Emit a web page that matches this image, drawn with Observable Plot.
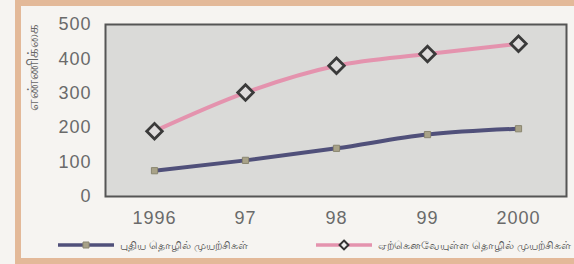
<!DOCTYPE html>
<html>
<head>
<meta charset="utf-8">
<script src="https://cdn.jsdelivr.net/npm/d3@7"></script>
<script src="https://cdn.jsdelivr.net/npm/@observablehq/plot@0.6"></script>
<style>
  html, body { margin: 0; padding: 0; background: #f6f4f1; }
  #wrap { position: relative; width: 574px; height: 264px; overflow: hidden; background: #f6f4f1; font-family: "Liberation Sans", Arial, sans-serif; }
  .band { position: absolute; background: #e3b999; }
  #chart { position: absolute; left: 0; top: 0; }
  .leg { position: absolute; top: 237px; height: 16px; display: flex; align-items: center; font-size: 11px; color: #555; font-family: "Noto Sans", "Liberation Sans", sans-serif; white-space: nowrap; }
  .leg svg { margin-right: 4px; }
</style>
</head>
<body>
<div id="wrap">
  <div class="band" style="left:15px;top:0;width:559px;height:6px"></div>
  <div class="band" style="left:15px;top:0;width:6px;height:264px"></div>
  <div class="band" style="left:15px;top:258px;width:559px;height:6px"></div>
  <div id="chart"></div>
  <div class="leg" id="leg1" style="left:58px"></div>
  <div class="leg" id="leg2" style="left:316px"></div>
</div>
<script>
const years = ["1996", "97", "98", "99", "2000"];
const newVentures = [75, 105, 140, 180, 197];
const existingVentures = [190, 302, 380, 414, 444];
const yTicks = [0, 100, 200, 300, 400, 500];
const yLabel = "எண்ணிக்கை";
const seriesNames = ["புதிய தொழில் முயற்சிகள்", "ஏற்கெனவேயுள்ள தொழில் முயற்சிகள்"];

const newData = years.map((y, i) => ({year: y, value: newVentures[i]}));
const oldData = years.map((y, i) => ({year: y, value: existingVentures[i]}));

const pink = "#e493ae";
const navy = "#50507a";

const chart = Plot.plot({
  width: 574,
  height: 232,
  marginLeft: 105,
  marginRight: 8,
  marginTop: 24,
  marginBottom: 36,
  style: {background: "transparent", fontFamily: "Liberation Sans, Arial, sans-serif"},
  x: {type: "point", domain: years, padding: 0.53},
  y: {domain: [0, 500]},
  marks: [
    Plot.frame({fill: "#dadad8", stroke: "#555", strokeWidth: 2}),
    Plot.axisY({ticks: yTicks, tickSize: 0, tickPadding: 14, fontSize: 18, color: "#6a6a6a", label: null}),
    Plot.axisX({tickSize: 0, tickPadding: 15, fontSize: 18, color: "#6a6a6a", label: null}),
    Plot.text([yLabel], {frameAnchor: "left", dx: -72, rotate: -90, fontSize: 15, fill: "#666", fontFamily: "Noto Sans, sans-serif"}),
    Plot.line(oldData, {x: "year", y: "value", stroke: pink, strokeWidth: 4, curve: "monotone-x"}),
    Plot.line(newData, {x: "year", y: "value", stroke: navy, strokeWidth: 4, curve: "monotone-x"}),
    Plot.dot(newData, {x: "year", y: "value", symbol: "square", r: 3.5, fill: "#a8a288", stroke: "#8a8670", strokeWidth: 1}),
    Plot.dot(oldData, {x: "year", y: "value", symbol: "diamond2", r: 7, fill: "#dedcdc", stroke: "#3a3a3a", strokeWidth: 2.8})
  ]
});
const svgChart = chart.tagName.toLowerCase() === "svg" ? chart : chart.querySelector("svg");
svgChart.querySelectorAll("[aria-label='x-axis tick label'] text, [aria-label='y-axis tick label'] text").forEach(t => t.setAttribute("letter-spacing", "1"));
document.getElementById("chart").appendChild(chart);

function legendSwatch(color, symbol) {
  const ns = "http://www.w3.org/2000/svg";
  const s = document.createElementNS(ns, "svg");
  s.setAttribute("width", 58); s.setAttribute("height", 16);
  const l = document.createElementNS(ns, "line");
  l.setAttribute("x1", 0); l.setAttribute("x2", 56); l.setAttribute("y1", 8); l.setAttribute("y2", 8);
  l.setAttribute("stroke", color); l.setAttribute("stroke-width", 3.5);
  s.appendChild(l);
  const p = document.createElementNS(ns, "path");
  p.setAttribute("d", d3.symbol(symbol === "square" ? d3.symbolSquare : d3.symbolDiamond2, symbol === "square" ? 36 : 50)());
  p.setAttribute("transform", "translate(28,8)");
  if (symbol === "square") { p.setAttribute("fill", "#a8a288"); p.setAttribute("stroke", "#8a8670"); }
  else { p.setAttribute("fill", "#eee"); p.setAttribute("stroke", "#333"); p.setAttribute("stroke-width", 2); }
  s.appendChild(p);
  return s;
}
const l1 = document.getElementById("leg1");
l1.appendChild(legendSwatch(navy, "square"));
l1.appendChild(document.createTextNode(seriesNames[0]));
const l2 = document.getElementById("leg2");
l2.appendChild(legendSwatch(pink, "diamond"));
l2.appendChild(document.createTextNode(seriesNames[1]));
</script>
</body>
</html>
